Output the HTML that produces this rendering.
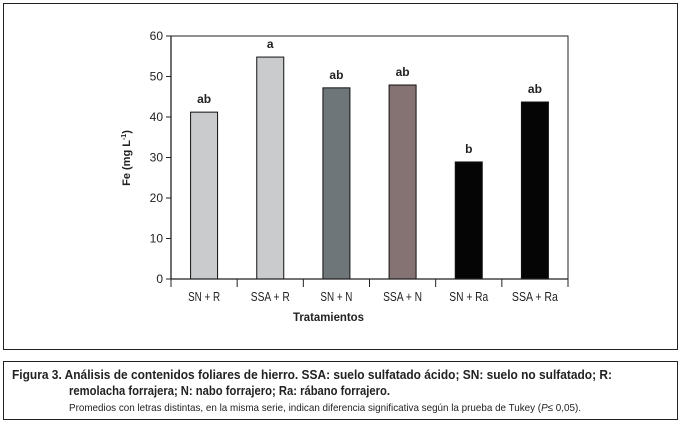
<!DOCTYPE html>
<html><head><meta charset="utf-8"><style>
body{margin:0;background:#fff;width:681px;height:421px;overflow:hidden;font-family:"Liberation Sans Narrow","Liberation Sans",sans-serif;}
svg text{font-family:"Liberation Sans Narrow","Liberation Sans",sans-serif;}
</style></head><body>
<svg width="681" height="421" xmlns="http://www.w3.org/2000/svg">
<rect x="3.5" y="3.5" width="674" height="346" fill="none" stroke="#222" stroke-width="1"/>
<rect x="3.5" y="361.5" width="674" height="58" fill="none" stroke="#222" stroke-width="1"/>
<g id="chart"></g>
<text x="293" y="321" font-size="12" font-weight="bold" fill="#222" textLength="71" lengthAdjust="spacingAndGlyphs">Tratamientos</text>
<text transform="translate(130,158) rotate(-90)" font-size="11" font-weight="bold" text-anchor="middle" fill="#222">Fe (mg L<tspan font-size="7" dy="-4">-1</tspan><tspan dy="4">)</tspan></text>
<text x="12" y="379" font-size="13" font-weight="bold" fill="#222" textLength="600" lengthAdjust="spacingAndGlyphs">Figura 3.  Análisis de contenidos foliares de hierro. SSA: suelo sulfatado ácido; SN: suelo no sulfatado; R:</text>
<text x="69" y="395" font-size="13" font-weight="bold" fill="#222" textLength="321" lengthAdjust="spacingAndGlyphs">remolacha forrajera; N: nabo forrajero; Ra: rábano forrajero.</text>
<text x="69" y="411" font-size="10.5" fill="#222" textLength="512" lengthAdjust="spacingAndGlyphs">Promedios con letras distintas, en la misma serie, indican diferencia significativa según la prueba de Tukey (<tspan font-style="italic">P</tspan>≤ 0,05).</text>
</svg>
<script>
const categories=["SN+R","SSA+R","SN+N","SSA+N","SN+Ra","SSA+Ra"];
const values=[41.2,54.8,47.2,47.9,28.9,43.7];
const letters=["ab","a","ab","ab","b","ab"];
const colors=["#c9cbcd","#c9cbcd","#6f7679","#857273","#050505","#050505"];
const yTicks=[0,10,20,30,40,50,60];
const NS="http://www.w3.org/2000/svg";
const g=document.getElementById('chart');
const X0=171,X1=568,Y0=279,Y1=36;
const band=(X1-X0)/categories.length;
const y=v=>Y0-(v/60)*(Y0-Y1);
const xc=i=>X0+band*(i+0.5);
function mk(t,a){const e=document.createElementNS(NS,t);for(const k in a)e.setAttribute(k,a[k]);g.appendChild(e);return e;}
const fr=mk('path',{d:`M${X0},${Y1}H${X1}V${Y0}`,fill:'none',stroke:'#222','stroke-width':1});


values.forEach((v,i)=>{
 const r=mk('rect',{x:xc(i)-13.5,y:y(v),width:27,height:Y0-y(v),fill:colors[i],stroke:'#111','stroke-width':1});
 
 
 const l=mk('text',{x:xc(i),y:y(v)-9,'font-size':12,'font-weight':'bold','text-anchor':'middle',fill:'#222'});
 l.textContent=letters[i];
 
 
 const c=mk('text',{x:xc(i),y:Y0+22,'font-size':13,'text-anchor':'middle',fill:'#222'});
 c.textContent=categories[i].replace('+',' + ');
 c.setAttribute('textLength',categories[i].length*7+4);
 c.setAttribute('lengthAdjust','spacingAndGlyphs');
 
 
});
for(let i=0;i<=categories.length;i++){
 const t=mk('line',{x1:X0+band*i,x2:X0+band*i,y1:Y0,y2:Y0+8,stroke:'#222','stroke-width':1});
 
 
}
yTicks.forEach(v=>{
 const t=mk('line',{x1:X0-5,x2:X0,y1:y(v),y2:y(v),stroke:'#222','stroke-width':1});
 
 
 const l=mk('text',{x:X0-8,y:y(v)+4,'font-size':12,'text-anchor':'end',fill:'#222'});
 l.textContent=v;
 
 
});
const ax=mk('path',{d:`M${X0},${Y1}V${Y0}H${X1}`,fill:'none',stroke:'#222','stroke-width':1.3});


</script>
</body></html>
